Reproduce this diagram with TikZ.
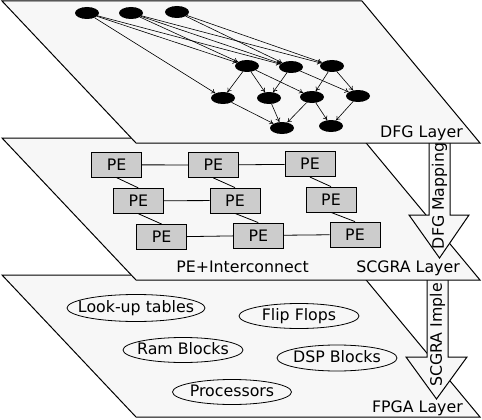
\documentclass[tikz,border=0pt]{standalone}
\usepackage{fontspec}
\setmainfont{DejaVu Sans}
\usetikzlibrary{shapes.geometric,arrows.meta}
\definecolor{layerfill}{HTML}{F7F7F7}
\definecolor{pefill}{HTML}{CCCCCC}
\begin{document}
\begin{tikzpicture}[x=1pt,y=-1pt,
  every node/.style={font=\fontsize{15.8}{18}\selectfont},
  layer/.style={draw=black,fill=layerfill,line width=1pt},
  bigarrow/.style={draw=black,fill=layerfill,line width=1pt},
  dfgnode/.style={ellipse,fill=black,minimum width=24pt,minimum height=12pt,inner sep=0pt},
  dfgedge/.style={line width=0.6pt,-{To[length=4pt,width=5pt]}},
  pebox/.style={draw=black,fill=pefill,line width=0.8pt,minimum width=50pt,minimum height=25pt,inner sep=0pt},
  pelink/.style={line width=0.8pt},
  res/.style={text height=11pt,text depth=3pt,inner sep=0pt},
  resring/.style={line width=0.8pt}]
\useasboundingbox (0,0) rectangle (482,420);

% ---------- FPGA layer ----------
\draw[layer] (2,275) -- (362,275) -- (480,417) -- (136,417) -- cycle;
\node[res] (lut) at (136,308) {Look-up tables};
\draw[resring] (lut.center) ellipse [x radius=69pt, y radius=13.5pt];
\node[res] (ff) at (299,316) {Flip Flops};
\draw[resring] (ff.center) ellipse [x radius=60pt, y radius=12.5pt];
\node[res] (ram) at (183,350) {Ram Blocks};
\draw[resring] (ram.center) ellipse [x radius=60pt, y radius=12.5pt];
\node[res] (dsp) at (337,358) {DSP Blocks};
\draw[resring] (dsp.center) ellipse [x radius=60pt, y radius=13pt];
\node[res] (proc) at (232,392) {Processors};
\draw[resring] (proc.center) ellipse [x radius=59.5pt, y radius=12.5pt];
\node[anchor=base east,inner sep=0pt] (fpgalbl) at (463,412) {FPGA Layer};

% ---------- SCGRA implementation arrow ----------
\draw[bigarrow] (427,277) -- (427,357) -- (406,357) -- (436.5,399) -- (467,357) -- (448,357) -- (448,277);
\node[rotate=90,inner sep=0pt] (impl) at (437.5,335) {SCGRA Imple};

% ---------- SCGRA layer ----------
\draw[layer] (2,138) -- (362,138) -- (480,280) -- (136,280) -- cycle;
\node[pebox] (p11) at (116.7,164.8) {PE};
\node[pebox] (p12) at (213.3,165) {PE};
\node[pebox] (p13) at (310,164.2) {PE};
\node[pebox] (p21) at (138.3,200.8) {PE};
\node[pebox] (p22) at (235,200.5) {PE};
\node[pebox] (p23) at (331,199.5) {PE};
\node[pebox] (p31) at (161.7,237) {PE};
\node[pebox] (p32) at (258.3,235.5) {PE};
\node[pebox] (p33) at (355,234.5) {PE};
\draw[pelink] (p11) -- (p12);
\draw[pelink] (p12) -- (p13);
\draw[pelink] (p21) -- (p22);
\draw[pelink] (p31) -- (p32);
\draw[pelink] (p32) -- (p33);
\draw[pelink] (p11.south) -- (p21.north);
\draw[pelink] (p12.south) -- (p22.north);
\draw[pelink] (p13.south) -- (p23.north);
\draw[pelink] (p21.south) -- (p31.north);
\draw[pelink] (p22.south) -- (p32.north);
\draw[pelink] (p23.south) -- (p33.north);
\node[anchor=base,inner sep=0pt] (pelbl) at (242.5,272) {PE+Interconnect};
\node[anchor=base east,inner sep=0pt] (scgralbl) at (460,272) {SCGRA Layer};

% ---------- DFG mapping arrow ----------
\draw[bigarrow] (429,140) -- (429,215) -- (409,215) -- (439.5,258) -- (469,215) -- (450,215) -- (450,140);
\node[rotate=90,inner sep=0pt] (mapping) at (439.5,196) {DFG Mapping};

% ---------- DFG layer ----------
\draw[layer] (2,1) -- (362,1) -- (480,143) -- (136,143) -- cycle;
\node[dfgnode] (a1) at (87,13) {};
\node[dfgnode] (a2) at (131,13) {};
\node[dfgnode] (a3) at (177,12) {};
\node[dfgnode] (b1) at (247,66) {};
\node[dfgnode] (b2) at (291,67) {};
\node[dfgnode] (b3) at (332,66) {};
\node[dfgnode] (c1) at (223,98) {};
\node[dfgnode] (c2) at (269,98) {};
\node[dfgnode] (c3) at (312,97) {};
\node[dfgnode] (c4) at (358,96) {};
\node[dfgnode] (d1) at (282,128) {};
\node[dfgnode] (d2) at (331,126) {};
\draw[dfgedge] (a1) -- (b1);
\draw[dfgedge] (a1) -- (b2);
\draw[dfgedge] (a1) -- (c1);
\draw[dfgedge] (a2) -- (b1);
\draw[dfgedge] (a2) -- (b2);
\draw[dfgedge] (a2) -- (b3);
\draw[dfgedge] (a3) -- (b2);
\draw[dfgedge] (a3) -- (b3);
\draw[dfgedge] (b1) -- (c1);
\draw[dfgedge] (b1) -- (c2);
\draw[dfgedge] (b1) -- (c3);
\draw[dfgedge] (b2) -- (c2);
\draw[dfgedge] (b2) -- (c4);
\draw[dfgedge] (b3) -- (c3);
\draw[dfgedge] (b3) -- (c4);
\draw[dfgedge] (c1) -- (d1);
\draw[dfgedge] (c2) -- (d1);
\draw[dfgedge] (c3) -- (d1);
\draw[dfgedge] (c3) -- (d2);
\draw[dfgedge] (c4) -- (d2);
\node[anchor=base east,inner sep=0pt] (dfglbl) at (463,137) {DFG Layer};
\end{tikzpicture}
\end{document}
